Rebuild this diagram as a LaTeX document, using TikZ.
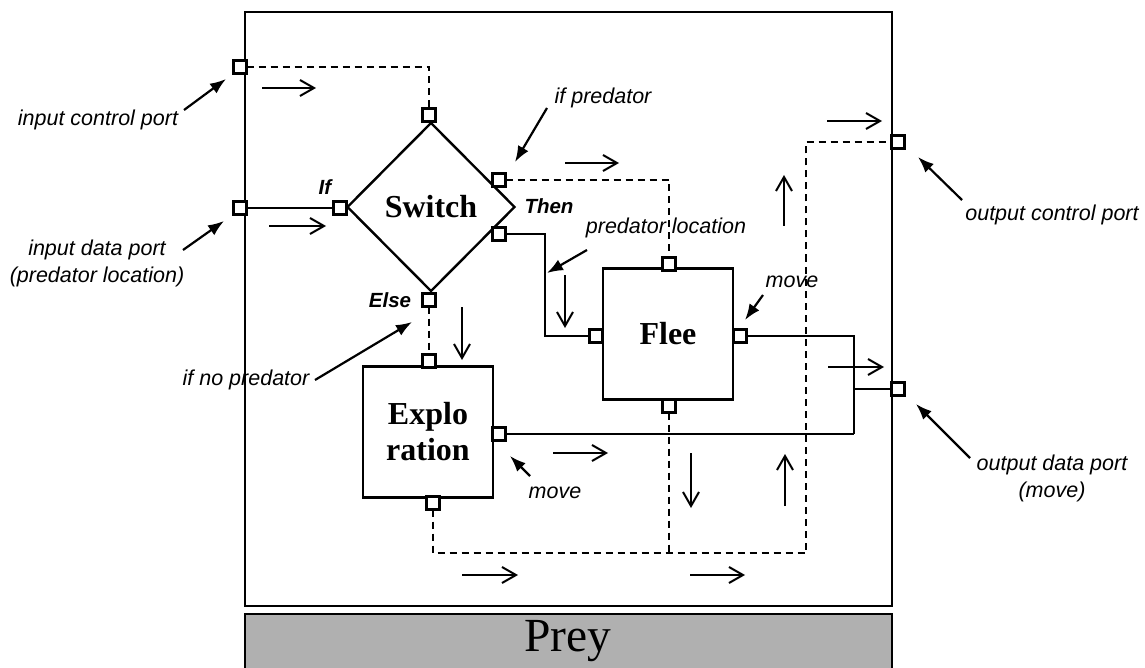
\documentclass[tikz,border=0pt]{standalone}
\usepackage{fontspec}
\setmainfont{Liberation Serif}
\newfontfamily\labfont{Liberation Sans}
\usetikzlibrary{arrows.meta,shapes.geometric}

\begin{document}
\begin{tikzpicture}[x=1pt,y=-1pt,
  port/.style={draw, line width=3pt, fill=white, minimum size=10pt, inner sep=0pt},
  block/.style={draw, line width=2.4pt, fill=white, minimum width=130pt, minimum height=131pt,
    inner sep=0pt, align=center, font=\fontsize{32}{36}\selectfont\bfseries},
  wire/.style={line width=2.4pt},
  ctrl/.style={line width=2.2pt, dash pattern=on 7pt off 5pt},
  flow/.style={line width=2pt, -{Straight Barb[length=14pt,width=16pt]}},
  note/.style={line width=2.2pt, -{Latex[length=16pt,width=12pt]}},
  lab/.style={font=\labfont\itshape\fontsize{21.5}{27}\selectfont, inner sep=0pt, align=center},
  kw/.style={font=\labfont\bfseries\itshape\fontsize{20.5}{24}\selectfont, inner sep=0pt}
]
\useasboundingbox (0,0) rectangle (1145,668);

% component frame and name bar
\draw[line width=2.4pt] (245,12) rectangle (892,606);
\fill[gray!62] (245,614) rectangle (892,668);
\draw[line width=2.6pt] (245,668) -- (245,614) -- (892,614) -- (892,668);
\node[font=\fontsize{47.5}{48}\selectfont] (prey) at (568,641) {Prey};

% blocks
\node[diamond, draw, line width=2.4pt, minimum width=168pt, minimum height=169pt, inner sep=0pt,
  font=\fontsize{32}{36}\selectfont\bfseries] (sw) at (431,207) {Switch};
\node[block] (flee) at (668,334) {Flee};
\node[block] (expl) at (428,432) {Explo\\ration};

% ports
\node[port] (icp)  at (240,67)  {};
\node[port] (idp)  at (240,208) {};
\node[port] (swT)  at (429,115) {};
\node[port] (swL)  at (340,208) {};
\node[port] (ifp)  at (499,180) {};
\node[port] (then) at (499,234) {};
\node[port] (else) at (429,300) {};
\node[port] (flT)  at (669,264) {};
\node[port] (flL)  at (596,336) {};
\node[port] (flR)  at (740,336) {};
\node[port] (flB)  at (669,406) {};
\node[port] (exT)  at (429,361) {};
\node[port] (exR)  at (499,434) {};
\node[port] (exB)  at (433,503) {};
\node[port] (ocp)  at (898,142) {};
\node[port] (odp)  at (898,389) {};

% junctions
\coordinate (jm)  at (854,434);
\coordinate (jb)  at (854,389);
\coordinate (cb)  at (806,553);

% data wires
\draw[wire] (idp) -- (swL);
\draw[wire] (then) -- ++(46,0) |- (flL);
\draw[wire] (flR) -| (jm);
\draw[wire] (exR) -- (jm);
\draw[wire] (jb) -- (odp);

% control wires
\draw[ctrl] (icp) -| (swT);
\draw[ctrl] (ifp) -| (flT);
\draw[ctrl] (else) -- (exT);
\draw[ctrl] (exB) |- (cb) |- (ocp);
\draw[ctrl] (flB) -- (flB |- cb);

% redraw ports over the wires
\foreach \p in {icp,idp,swT,swL,ifp,then,else,flT,flL,flR,flB,exT,exR,exB,ocp,odp}
  \draw[line width=3pt, fill=white] (\p.south west) rectangle (\p.north east);

% flow direction arrows
\draw[flow] (262,88) -- (316,88);
\draw[flow] (269,226) -- (326,226);
\draw[flow] (565,163) -- (619,163);
\draw[flow] (565,275) -- (565,328);
\draw[flow] (462,307) -- (462,360);
\draw[flow] (553,453) -- (608,453);
\draw[flow] (691,453) -- (691,508);
\draw[flow] (785,506) -- (785,454);
\draw[flow] (462,575) -- (518,575);
\draw[flow] (690,575) -- (745,575);
\draw[flow] (784,226) -- (784,175);
\draw[flow] (827,121) -- (882,121);
\draw[flow] (828,367) -- (884,367);

% keywords
\node[kw] (kif)   at (325,187) {If};
\node[kw] (kthen) at (549,206) {Then};
\node[kw] (kelse) at (390,300) {Else};

% annotations
\node[lab] (licp) at (98,120) {input control port};
\node[lab] (lidp) at (97,263) {input data port\\(predator location)};
\node[lab] (lifp) at (603,98) {if predator};
\node[lab] (lpl)  at (666,228) {predator location};
\node[lab] (lmf)  at (792,282) {move};
\node[lab] (lnp)  at (246,380) {if no predator};
\node[lab] (lme)  at (555,493) {move};
\node[lab] (locp) at (1052,215) {output control port};
\node[lab] (lodp) at (1052,478) {output data port\\(move)};

\coordinate (a1s) at (184,110); \coordinate (a1t) at (226,79);
\coordinate (a2s) at (183,250); \coordinate (a2t) at (224,221);
\coordinate (a3s) at (547,108); \coordinate (a3t) at (515,162);
\coordinate (a4s) at (587,250); \coordinate (a4t) at (547,273);
\coordinate (a5s) at (763,295); \coordinate (a5t) at (745,320);
\coordinate (a6s) at (315,380); \coordinate (a6t) at (412,322);
\coordinate (a7s) at (530,476); \coordinate (a7t) at (510,456);
\coordinate (a8s) at (962,200); \coordinate (a8t) at (918,157);
\coordinate (a9s) at (970,458); \coordinate (a9t) at (916,404);
\draw[note] (a1s) -- (a1t);
\draw[note] (a2s) -- (a2t);
\draw[note] (a3s) -- (a3t);
\draw[note] (a4s) -- (a4t);
\draw[note] (a5s) -- (a5t);
\draw[note] (a6s) -- (a6t);
\draw[note] (a7s) -- (a7t);
\draw[note] (a8s) -- (a8t);
\draw[note] (a9s) -- (a9t);
\end{tikzpicture}
\end{document}
